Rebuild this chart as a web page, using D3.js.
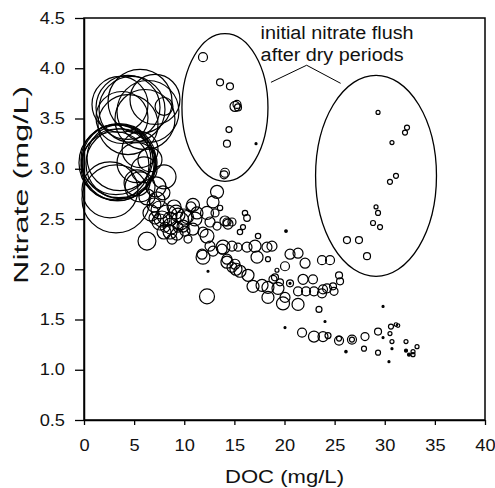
<!DOCTYPE html>
<html>
<head>
<meta charset="utf-8">
<script src="https://cdn.jsdelivr.net/npm/d3@7"></script>
<style>
  body { margin: 0; background: #fff; }
  text { font-family: "Liberation Sans", Arial, sans-serif; fill: #111; }
</style>
</head>
<body>
<div id="scatter"></div>
<script>
// DOC (mg/L), nitrate (mg/L) and flow (bubble size) for each sample
var doc = [3.59,4.79,5.59,6.38,6.08,4.39,7.98,7.08,4.39,3.79,
  3.29,3.49,3.39,3.19,3.69,3.09,3.59,3.19,2.59,5.29,5.59,5.99,7.98,5.29,7.18,6.58,5.59,
  6.28,6.98,6.68,7.78,8.68,8.98,9.98,7.98,9.28,6.28,10.67,7.28,7.88,7.58,8.58,9.18,9.38,8.58,
  9.88,10.87,11.87,12.57,13.27,14.26,14.76,13.27,12.87,13.07,13.57,12.27,10.87,11.27,10.27,
  7.58,8.28,9.58,7.08,10.07,11.07,8.78,10.37,8.08,9.38,
  12.57,11.77,12.87,13.77,14.76,14.26,15.06,15.36,15.56,15.86,12.37,16.06,16.26,17.36,20.15,
  14.06,14.36,12.27,11.87,13.87,16.26,17.06,18.25,18.75,17.26,18.35,14.26,14.76,15.56,16.36,
  12.27,16.86,17.76,18.35,19.35,19.55,18.35,19.85,21.35,19.05,20.05,20.55,20.55,20.55,21.35,
  22.05,21.85,22.84,21.35,22.15,22.94,23.74,23.84,24.24,24.94,24.84,25.54,25.44,23.74,24.54,
  23.44,24.04,29.83,20.05,15.16,20.05,19.25,18.85,
  21.75,22.94,23.84,24.34,25.44,25.44,26.73,26.73,28.03,29.33,29.83,30.62,31.12,31.32,30.52,
  30.72,32.12,33.22,32.82,32.82,32.12,30.72,29.33,27.93,26.13,30.42,32.42,
  11.87,13.57,14.56,15.06,15.26,15.36,14.46,14.26,17.16,14.06,13.97,
  29.33,32.22,32.02,30.72,31.12,30.52,29.13,29.33,28.83,29.53,26.23,27.43,28.23];

var nitrate = [3.64,3.59,3.67,3.57,3.49,3.44,3.62,3.69,3.61,3.51,
  3.06,3.08,3.04,3.09,3.05,3.03,3.11,2.70,2.79,3.06,2.82,2.99,2.92,2.86,2.82,3.09,3.19,
  2.72,2.64,2.56,2.50,2.43,2.62,2.52,2.37,2.35,2.28,2.62,2.69,2.76,2.47,2.37,2.57,2.54,2.50,
  2.43,2.40,2.37,2.47,2.43,2.47,2.47,2.77,2.67,2.56,2.61,2.56,2.64,2.56,2.52,
  2.59,2.54,2.48,2.51,2.38,2.50,2.30,2.30,2.42,2.42,
  2.23,2.15,2.18,2.20,2.23,2.10,2.05,2.22,2.37,2.42,1.98,2.56,2.51,2.33,2.38,
  2.48,2.45,2.33,2.12,2.22,2.22,2.23,2.22,2.23,2.12,2.10,2.07,2.02,1.98,1.94,
  1.73,1.83,1.84,1.82,1.81,1.87,1.72,1.66,1.65,1.92,2.03,1.86,1.86,2.15,2.16,
  2.06,1.90,1.90,1.78,1.78,1.78,1.76,1.80,1.81,1.78,1.83,1.88,1.94,2.09,2.09,
  1.60,1.48,1.63,1.42,2.00,1.72,1.99,1.90,
  1.37,1.33,1.33,1.34,1.29,1.31,1.30,1.30,1.33,1.38,1.32,1.43,1.45,1.44,1.36,
  1.28,1.28,1.23,1.18,1.15,1.19,1.21,1.17,1.21,1.18,1.08,1.15,
  4.11,3.86,3.82,3.62,3.64,3.61,3.39,3.25,3.25,2.96,2.94,
  3.56,3.41,3.36,3.26,2.93,2.87,2.62,2.56,2.46,2.42,2.29,2.29,2.13];

var flow = [196,272,256,240,225,225,20,156,256,169,
  361,342,324,306,306,289,272,289,196,100,56,42,36,42,25,36,81,
  16,12,16,16,16,12,16,12,9,20,6.25,16,12,16,12,12,12,12,
  9,9,6.25,6.25,4,4,4,10.6,9,4,1.8,10.6,10.6,9,10.6,
  20,25,20,9,6.25,12,6.25,4,6.25,6.25,
  6.25,6.25,6.25,6.25,6.25,6.25,6.25,4,1.8,1.56,0.25,1.8,2.7,1.8,0.42,
  6.25,6.25,12,12,12,6.25,9,6.25,6.25,9,1.56,9,6.25,9,9,
  14,9,9,9,9,3.06,9,10.6,9,3.06,5.06,3.06,0.25,6.25,6.25,
  6.25,6.25,5.06,5.06,5.06,5.06,5.06,5.06,5.06,4,3.06,3.06,3.06,5.06,5.06,
  2.25,0.25,0.25,0.25,9,6.25,1,4,
  5.06,7.56,6.25,2.25,5.06,1.56,5.06,1.56,4,3.06,0.25,1.56,0.81,0.81,1,
  1,1,1,1,1,0.56,0.25,1.56,1.56,0.36,0.25,0.56,
  5.06,3.06,3.06,6.25,4,3.06,2.25,3.06,0.25,5.06,4,
  1,1.56,1.56,1,1.56,1.56,1,1.56,1.56,1.56,3.06,3.06,3.06];

var xTicks = [0, 5, 10, 15, 20, 25, 30, 35, 40];
var yTicks = [0.5, 1.0, 1.5, 2.0, 2.5, 3.0, 3.5, 4.0, 4.5];

// the two "flush" groups circled on the figure (centre and half-axes in data units)
var ellipseDoc = [14.06, 29.13];
var ellipseNitrate = [3.61, 2.93];
var ellipseDocRadius = [4.29, 6.03];
var ellipseNitrateRadius = [0.735, 1.0];
var noteLines = ["initial nitrate flush", "after dry periods"];
var noteLeader = [[18.65, 3.86], [22.21, 4.03], [25.6, 3.85]];

var svgWidth = 495;
var svgHeight = 488;
var margin = { top: 18, right: 10, bottom: 68, left: 84 };
var width = svgWidth - margin.left - margin.right;
var height = svgHeight - margin.top - margin.bottom;

var svg = d3.select("#scatter")
  .append("svg")
  .attr("width", svgWidth)
  .attr("height", svgHeight);

var chartGroup = svg.append("g")
  .attr("transform", `translate(${margin.left}, ${margin.top})`);

var xScale = d3.scaleLinear().domain([0, 40]).range([0, width]);
var yScale = d3.scaleLinear().domain([0.5, 4.5]).range([height, 0]);
var rScale = d3.scaleSqrt().domain([0, 400]).range([0, 40]);

// stretch text a little sideways, the original figure is scaled that way
function stretch(sel, k) {
  sel.each(function() {
    var len = this.getComputedTextLength();
    d3.select(this).attr("textLength", len * k).attr("lengthAdjust", "spacingAndGlyphs");
  });
}

// frame
chartGroup.append("rect")
  .attr("width", width)
  .attr("height", height)
  .attr("fill", "none")
  .attr("stroke", "#000")
  .attr("stroke-width", 1.5);

var bottomAxis = d3.axisBottom(xScale).tickValues(xTicks).tickSize(5).tickSizeOuter(0);
var leftAxis = d3.axisLeft(yScale).tickValues(yTicks).tickFormat(d3.format(".1f")).tickSize(9).tickSizeOuter(0);

var xAxisG = chartGroup.append("g")
  .attr("transform", `translate(0, ${height})`)
  .call(bottomAxis);
xAxisG.selectAll("text")
  .attr("y", 31).attr("dy", 0)
  .style("font-size", "16px");

var yAxisG = chartGroup.append("g").call(leftAxis);
yAxisG.selectAll("text")
  .attr("x", -19)
  .style("font-size", "16px");

[xAxisG, yAxisG].forEach(function(g) {
  g.select(".domain").attr("stroke-width", 1.5);
  g.selectAll(".tick line").attr("stroke-width", 1.3);
  g.selectAll("text").attr("fill", "#111");
  stretch(g.selectAll("text"), 1.14);
});

// axis titles
var xTitle = svg.append("text")
  .attr("x", margin.left + width / 2)
  .attr("y", 483)
  .attr("text-anchor", "middle")
  .style("font-size", "18.5px")
  .text("DOC (mg/L)");
xTitle.attr("textLength", 119).attr("lengthAdjust", "spacingAndGlyphs");

var yTitle = svg.append("text")
  .attr("transform", "translate(28, 185) rotate(-90)")
  .attr("text-anchor", "middle")
  .style("font-size", "21px")
  .text("Nitrate (mg/L)");
yTitle.attr("textLength", 198).attr("lengthAdjust", "spacingAndGlyphs");

// bubbles
var samples = doc.map(function(d, i) {
  return { doc: d, nitrate: nitrate[i], flow: flow[i] };
});

chartGroup.selectAll("circle.sample")
  .data(samples)
  .enter()
  .append("circle")
  .classed("sample", true)
  .attr("cx", d => xScale(d.doc))
  .attr("cy", d => yScale(d.nitrate))
  .attr("r", d => rScale(d.flow))
  .attr("fill", d => rScale(d.flow) < 1.5 ? "#000" : "none")
  .attr("stroke", "#000")
  .attr("stroke-width", 1.2);

// ellipses around the flush samples
ellipseDoc.forEach(function(d, i) {
  chartGroup.append("ellipse")
    .attr("cx", xScale(d))
    .attr("cy", yScale(ellipseNitrate[i]))
    .attr("rx", xScale(d + ellipseDocRadius[i]) - xScale(d))
    .attr("ry", yScale(ellipseNitrate[i] - ellipseNitrateRadius[i]) - yScale(ellipseNitrate[i]))
    .attr("fill", "none")
    .attr("stroke", "#000")
    .attr("stroke-width", 1.3);
});

chartGroup.append("path")
  .attr("d", d3.line().x(d => xScale(d[0])).y(d => yScale(d[1]))(noteLeader))
  .attr("fill", "none")
  .attr("stroke", "#000")
  .attr("stroke-width", 1);

noteLines.forEach(function(t, i) {
  var note = chartGroup.append("text")
    .attr("x", xScale(17.62))
    .attr("y", yScale(4.29 - i * 0.22))
    .style("font-size", "18px")
    .text(t);
  stretch(note, 1.1);
});
</script>
</body>
</html>
